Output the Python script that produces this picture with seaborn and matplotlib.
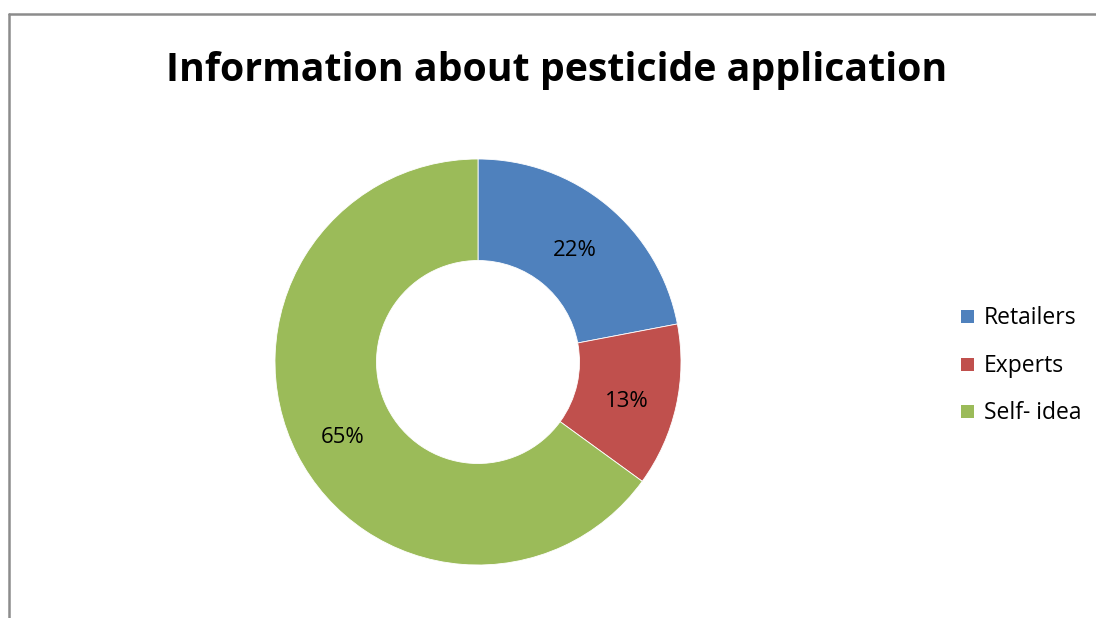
import matplotlib
matplotlib.use("Agg")
import matplotlib.pyplot as plt
import matplotlib.transforms as mtransforms
import seaborn as sns
from matplotlib.patches import Rectangle
from matplotlib.lines import Line2D

sns.set_theme(style="white")
plt.rcParams['font.family'] = ['Open Sans', 'DejaVu Sans']

title = "Information about pesticide application"
categories = ["Retailers", "Experts", "Self- idea"]
values = [22, 13, 65]
colors = ["#4F81BD", "#C0504D", "#9BBB59"]

W, H = 1096, 618
fig = plt.figure(figsize=(W / 100, H / 100), dpi=100)
fig.patch.set_facecolor("white")

# chart border (partially cropped like the reference)
fig.add_artist(Line2D([9 / W, 9 / W], [0, 1 - 14 / H], color="#8c8c8c", lw=1.8, transform=fig.transFigure))
fig.add_artist(Line2D([9 / W, 1], [1 - 14 / H, 1 - 14 / H], color="#8c8c8c", lw=1.8, transform=fig.transFigure))

cx, cy, r = 478, 362, 203
ax = fig.add_axes([(cx - r) / W, (H - cy - r) / H, 2 * r / W, 2 * r / H])
wedges, texts, autotexts = ax.pie(
    values, colors=colors, startangle=90, counterclock=False, radius=1,
    autopct=lambda p: f"{p:.0f}%", pctdistance=0.75,
    wedgeprops=dict(width=0.5, edgecolor="white", linewidth=0.6),
    textprops=dict(fontsize=16, color="black"),
)
for t in autotexts:
    t.set_transform(mtransforms.offset_copy(t.get_transform(), fig=fig, x=0, y=-6, units="dots"))
ax.set_xlim(-1, 1)
ax.set_ylim(-1, 1)
ax.set_aspect("equal")
ax.axis("off")

fig.text(557 / W, 1 - 70 / H, title, ha="center", va="center",
         fontsize=28.3, fontweight="bold", color="black")

# legend
ys = [316, 364, 411]
for lab, col, y in zip(categories, colors, ys):
    fig.add_artist(Rectangle((961 / W, 1 - (y + 7) / H), 13 / W, 13 / H,
                             facecolor=col, edgecolor="none", transform=fig.transFigure))
    fig.text(984 / W, 1 - (y + 2) / H, lab, ha="left", va="center", fontsize=16.5, color="black")

fig.savefig("out.png", dpi=100)
